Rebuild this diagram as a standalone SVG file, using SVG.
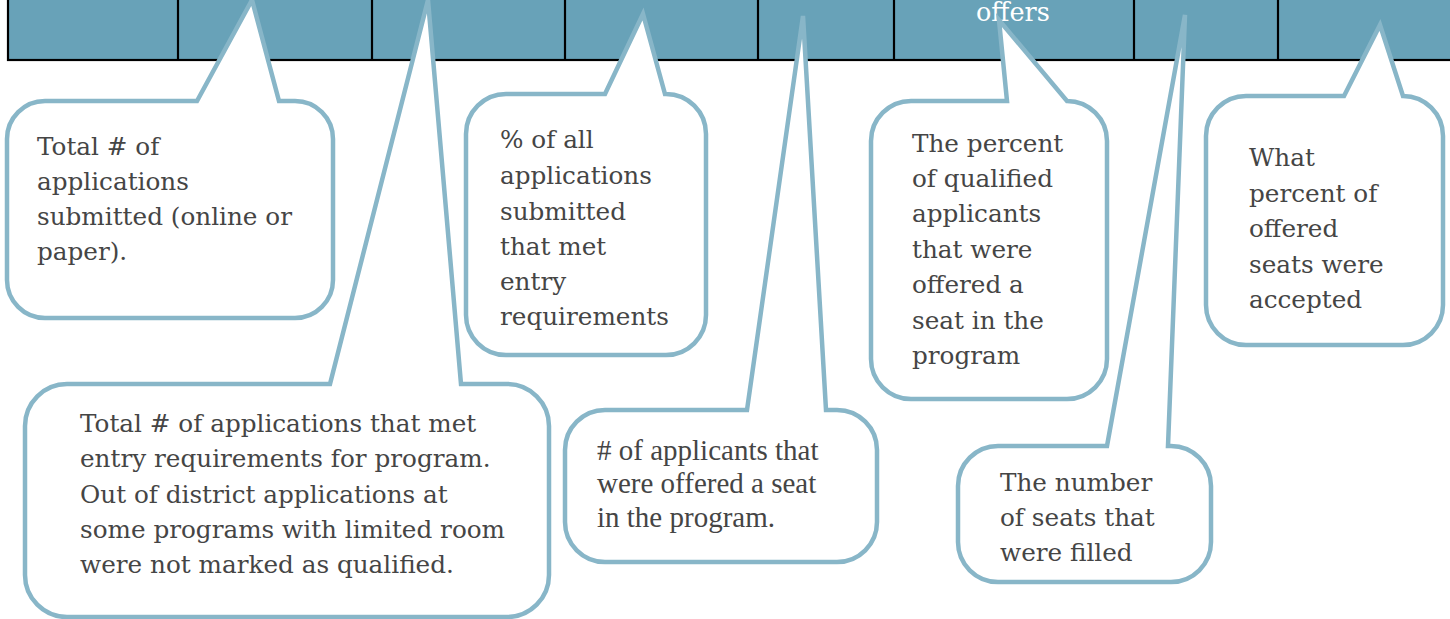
<svg xmlns="http://www.w3.org/2000/svg" width="1450" height="619" viewBox="0 0 1450 619">
<style>
.bar{fill:#68a2b8;stroke:#000;stroke-width:2.2}
.div{stroke:#000;stroke-width:2.2}
.co{fill:#fff;stroke:#88b6c8;stroke-width:4.5;stroke-linejoin:miter}
.t{font-family:"DejaVu Serif","Liberation Serif",serif;font-size:24.7px;fill:#454545}
.tt{font-family:"Liberation Serif","Times New Roman",serif;font-size:29px;fill:#454545}
.w{font-family:"DejaVu Serif","Liberation Serif",serif;font-size:25.5px;fill:#fff}
</style>
<g id="header">
<rect class="bar" x="8" y="-10" width="1450" height="70"/>
<g>
<line class="div" x1="178" y1="0" x2="178" y2="60"/>
<line class="div" x1="372" y1="0" x2="372" y2="60"/>
<line class="div" x1="565" y1="0" x2="565" y2="60"/>
<line class="div" x1="758" y1="0" x2="758" y2="60"/>
<line class="div" x1="894" y1="0" x2="894" y2="60"/>
<line class="div" x1="1134" y1="0" x2="1134" y2="60"/>
<line class="div" x1="1278" y1="0" x2="1278" y2="60"/>
</g>
<text class="w" x="976" y="21">offers</text>
</g>
<g id="callout-submitted">
<path class="co" d="M45,101 L197,101 L252,0 L279,101 L295,101 A38,38 0 0 1 333,139 L333,280 A38,38 0 0 1 295,318 L45,318 A38,38 0 0 1 7,280 L7,139 A38,38 0 0 1 45,101 Z"/>
<text class="t"><tspan x="37" y="155">Total # of</tspan><tspan x="37" y="190">applications</tspan><tspan x="37" y="225">submitted (online or</tspan><tspan x="37" y="260">paper).</tspan></text>
</g>
<g id="callout-qualified">
<path class="co" d="M67,384 L330,384 L428,0 L461,384 L507,384 A42,42 0 0 1 549,426 L549,575 A42,42 0 0 1 507,617 L67,617 A42,42 0 0 1 25,575 L25,426 A42,42 0 0 1 67,384 Z"/>
<text class="t"><tspan x="80" y="432">Total # of applications that met</tspan><tspan x="80" y="467">entry requirements for program.</tspan><tspan x="80" y="503">Out of district applications at</tspan><tspan x="80" y="538">some programs with limited room</tspan><tspan x="80" y="573">were not marked as qualified.</tspan></text>
</g>
<g id="callout-pct-qualified">
<path class="co" d="M506,94 L605,94 L643,14 L665,94 L666,94 A40,40 0 0 1 706,134 L706,315 A40,40 0 0 1 666,355 L506,355 A40,40 0 0 1 466,315 L466,134 A40,40 0 0 1 506,94 Z"/>
<text class="t"><tspan x="500" y="148">% of all</tspan><tspan x="500" y="184">applications</tspan><tspan x="500" y="220">submitted</tspan><tspan x="500" y="255">that met</tspan><tspan x="500" y="290">entry</tspan><tspan x="500" y="325">requirements</tspan></text>
</g>
<g id="callout-offered">
<path class="co" d="M605,410 L747,410 L803,16 L826,410 L837,410 A40,40 0 0 1 877,450 L877,522 A40,40 0 0 1 837,562 L605,562 A40,40 0 0 1 565,522 L565,450 A40,40 0 0 1 605,410 Z"/>
<text class="tt"><tspan x="597" y="460"># of applicants that</tspan><tspan x="597" y="493">were offered a seat</tspan><tspan x="597" y="527">in the program.</tspan></text>
</g>
<g id="callout-pct-offered">
<path class="co" d="M911,101 L1007,101 L999,20 L1067,101 A40,40 0 0 1 1107,141 L1107,359 A40,40 0 0 1 1067,399 L911,399 A40,40 0 0 1 871,359 L871,141 A40,40 0 0 1 911,101 Z"/>
<text class="t"><tspan x="912" y="152">The percent</tspan><tspan x="912" y="187">of qualified</tspan><tspan x="912" y="222">applicants</tspan><tspan x="912" y="258">that were</tspan><tspan x="912" y="293">offered a</tspan><tspan x="912" y="329">seat in the</tspan><tspan x="912" y="364">program</tspan></text>
</g>
<g id="callout-accepted">
<path class="co" d="M1246,96 L1344,96 L1380,25 L1403,96 A40,40 0 0 1 1443,136 L1443,305 A40,40 0 0 1 1403,345 L1246,345 A40,40 0 0 1 1206,305 L1206,136 A40,40 0 0 1 1246,96 Z"/>
<text class="t"><tspan x="1249" y="166">What</tspan><tspan x="1249" y="202">percent of</tspan><tspan x="1249" y="237">offered</tspan><tspan x="1249" y="273">seats were</tspan><tspan x="1249" y="308">accepted</tspan></text>
</g>
<g id="callout-filled">
<path class="co" d="M998,446 L1107,446 L1185,15 L1168,446 L1171,446 A40,40 0 0 1 1211,486 L1211,542 A40,40 0 0 1 1171,582 L998,582 A40,40 0 0 1 958,542 L958,486 A40,40 0 0 1 998,446 Z"/>
<text class="t"><tspan x="1000" y="491">The number</tspan><tspan x="1000" y="526">of seats that</tspan><tspan x="1000" y="561">were filled</tspan></text>
</g>
<g id="connectors"></g>
</svg>
